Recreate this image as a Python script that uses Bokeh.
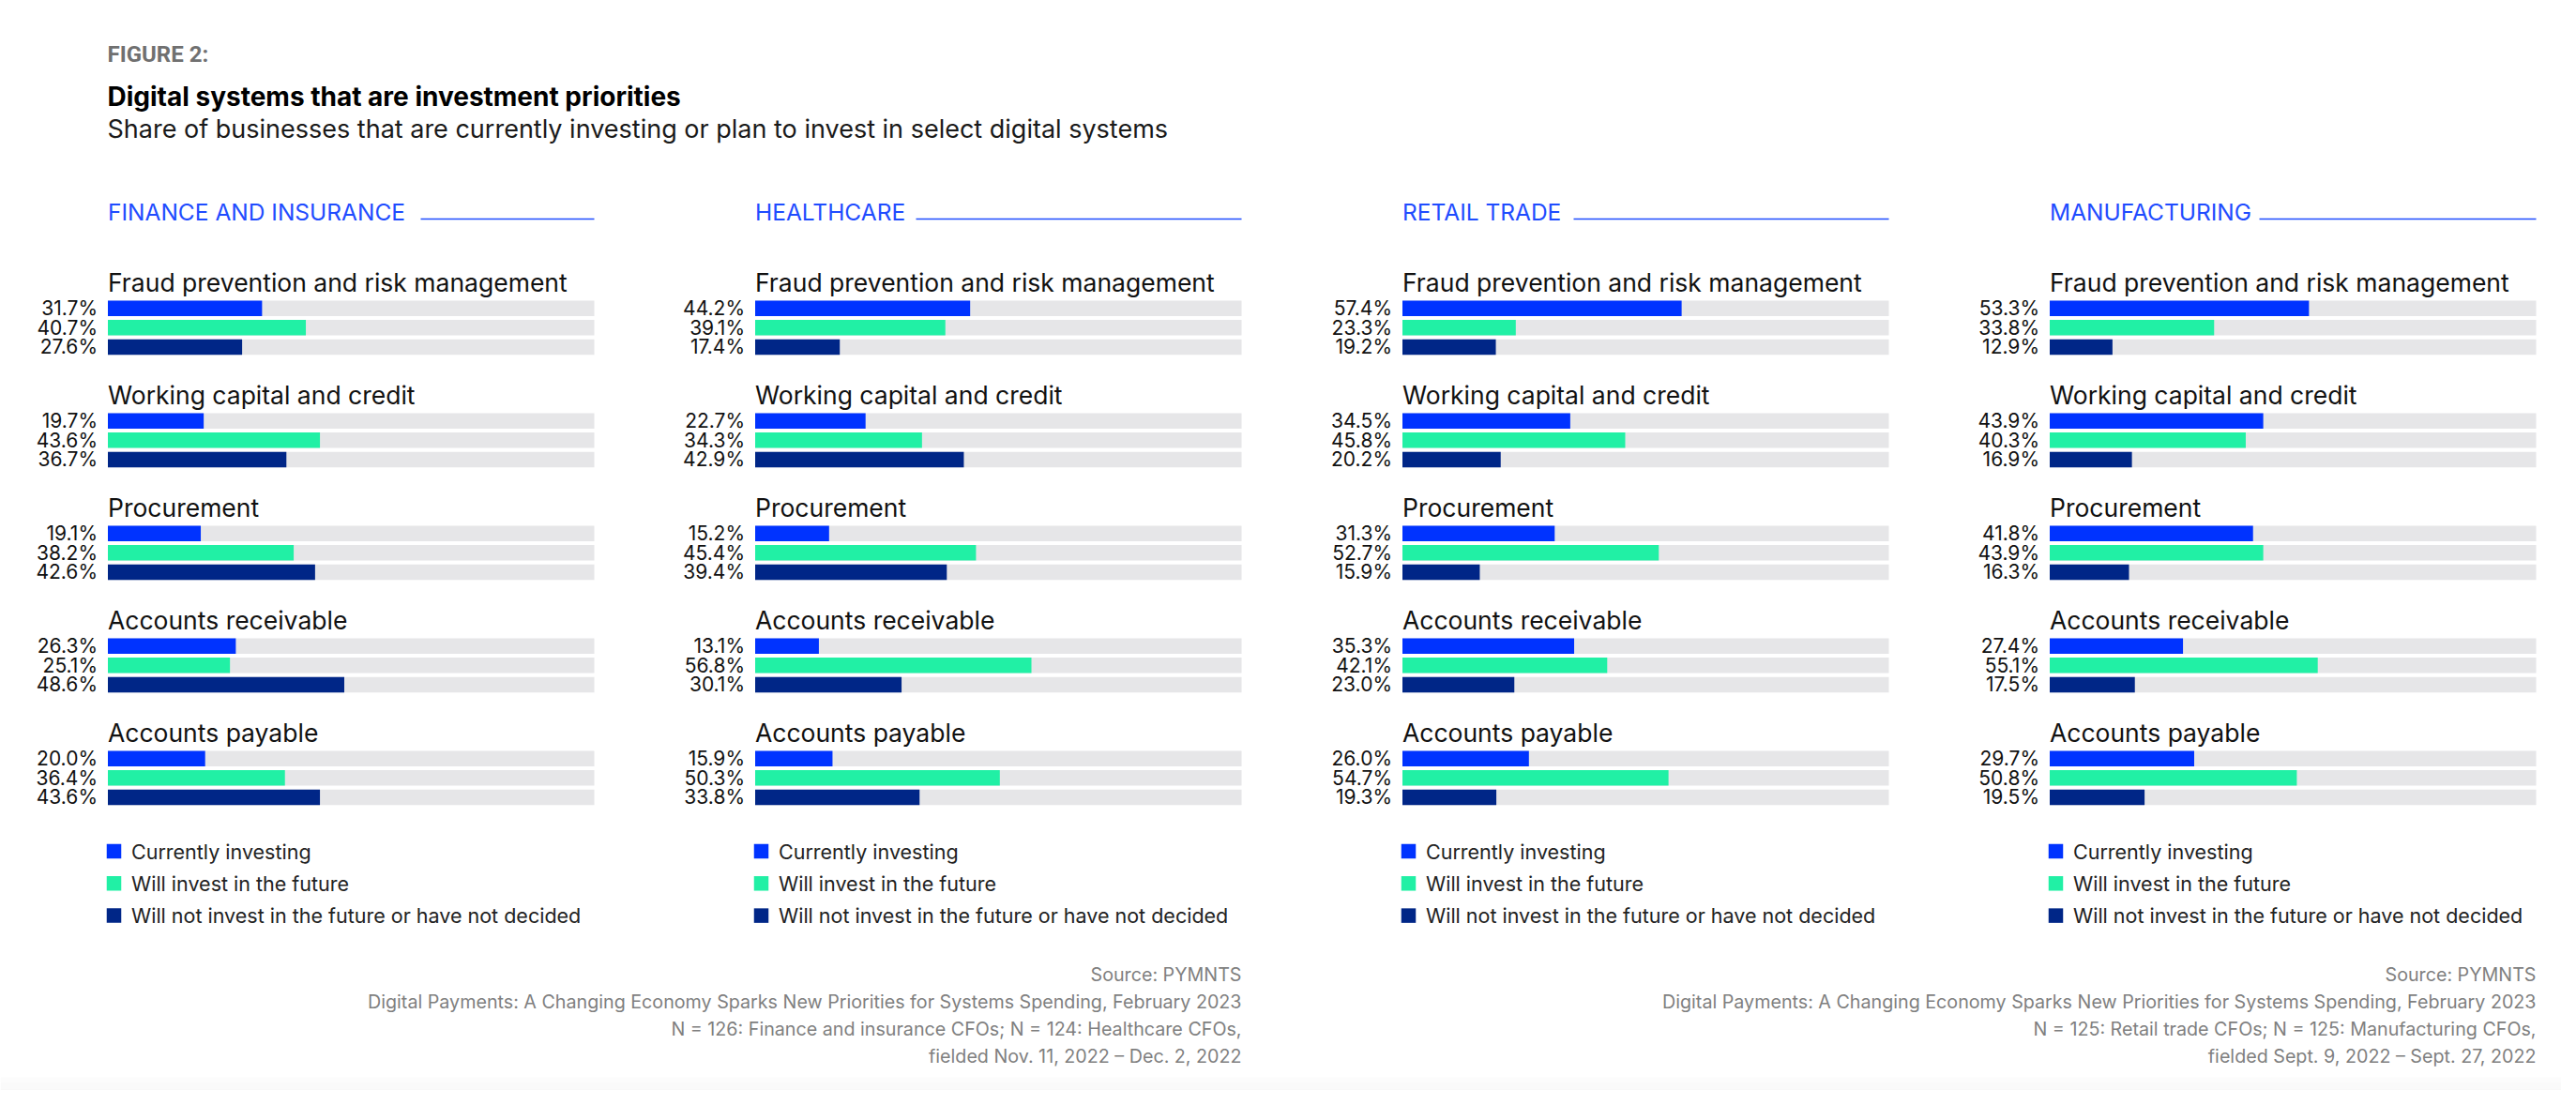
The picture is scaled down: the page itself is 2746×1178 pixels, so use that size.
from bokeh.plotting import figure
from bokeh.models import Range1d, ColumnDataSource
from bokeh.embed import file_html
from bokeh.resources import INLINE
from bokeh.core.properties import value

# ---------------- data ----------------
panels = ["FINANCE AND INSURANCE", "HEALTHCARE", "RETAIL TRADE", "MANUFACTURING"]
categories = ["Fraud prevention and risk management", "Working capital and credit",
              "Procurement", "Accounts receivable", "Accounts payable"]
series = ["Currently investing", "Will invest in the future",
          "Will not invest in the future or have not decided"]
colors = ["#0033ff", "#21f0a5", "#002687"]

finance_current = [31.7, 19.7, 19.1, 26.3, 20.0]
finance_future = [40.7, 43.6, 38.2, 25.1, 36.4]
finance_not = [27.6, 36.7, 42.6, 48.6, 43.6]

healthcare_current = [44.2, 22.7, 15.2, 13.1, 15.9]
healthcare_future = [39.1, 34.3, 45.4, 56.8, 50.3]
healthcare_not = [17.4, 42.9, 39.4, 30.1, 33.8]

retail_current = [57.4, 34.5, 31.3, 35.3, 26.0]
retail_future = [23.3, 45.8, 52.7, 42.1, 54.7]
retail_not = [19.2, 20.2, 15.9, 23.0, 19.3]

manufacturing_current = [53.3, 43.9, 41.8, 27.4, 29.7]
manufacturing_future = [33.8, 40.3, 43.9, 55.1, 50.8]
manufacturing_not = [12.9, 16.9, 16.3, 17.5, 19.5]

panel_data = [
    [finance_current, finance_future, finance_not],
    [healthcare_current, healthcare_future, healthcare_not],
    [retail_current, retail_future, retail_not],
    [manufacturing_current, manufacturing_future, manufacturing_not],
]

figure_label = "FIGURE 2:"
title = "Digital systems that are investment priorities"
subtitle = "Share of businesses that are currently investing or plan to invest in select digital systems"
footer_left = ["Source: PYMNTS",
               "Digital Payments: A Changing Economy Sparks New Priorities for Systems Spending, February 2023",
               "N = 126: Finance and insurance CFOs; N = 124: Healthcare CFOs,",
               "fielded Nov. 11, 2022 \u2013 Dec. 2, 2022"]
footer_right = ["Source: PYMNTS",
                "Digital Payments: A Changing Economy Sparks New Priorities for Systems Spending, February 2023",
                "N = 125: Retail trade CFOs; N = 125: Manufacturing CFOs,",
                "fielded Sept. 9, 2022 \u2013 Sept. 27, 2022"]

# ---------------- layout ----------------
W, H = 2730, 1162
TDY = -8  # baseline-anchored text correction
FONT = "Inter"

p = figure(width=W, height=H, x_range=Range1d(0, W), y_range=Range1d(H, 0),
           output_backend="svg", toolbar_location=None, min_border=0,
           x_axis_location=None, y_axis_location=None)
p.grid.visible = False
p.outline_line_color = None
p.background_fill_color = "white"
p.border_fill_color = "white"

# faint bottom shading
for k, c in enumerate(["#fcfcfc", "#fafafa", "#f8f8f8", "#f6f6f6"]):
    p.quad(left=0, right=W, top=1148 + k * 6,
           bottom=(1154 + k * 6) if k < 3 else H,
           fill_color=c, line_color=None)

# header texts
p.text(x=[114], y=[65 + TDY], text=[figure_label], text_font=value("Roboto"),
       text_font_style="bold", text_font_size="24px", text_color="#707070",
       text_baseline="alphabetic")
p.text(x=[114], y=[110 + TDY], text=[title], text_font=value(FONT),
       text_font_style="bold", text_font_size="28px", text_color="#000000",
       text_baseline="alphabetic")
p.text(x=[114], y=[145 + TDY], text=[subtitle], text_font=value(FONT),
       text_font_size="27px", text_color="#1a1a1a", text_baseline="alphabetic")

X0 = 114.5
L = 518.5
PANEL_PITCH = 690.0
GROUP_PITCH = 120.0
SUB_PITCH = 20.6
BAR_H = 16.5
TOP = 320.0
line_starts = [448, 976, 1677, 2408]

for i, pname in enumerate(panels):
    s = X0 + PANEL_PITCH * i
    rname = "p%d" % i
    p.extra_x_ranges[rname] = Range1d(-s * 100.0 / L, (W - s) * 100.0 / L)

    # panel header + rule
    p.text(x=[0], y=[233 + TDY], text=[pname], x_range_name=rname,
           text_font=value(FONT), text_font_size="24.5px", text_color="#1f4cff",
           text_baseline="alphabetic")
    p.segment(x0=[line_starts[i]], x1=[s + L], y0=[233], y1=[233],
              line_color="#1f4cff", line_width=1.3)

    ys, vals, cols, labels = [], [], [], []
    for g, cat in enumerate(categories):
        for k in range(3):
            ys.append(TOP + GROUP_PITCH * g + SUB_PITCH * k + BAR_H / 2)
            v = panel_data[i][k][g]
            vals.append(v)
            cols.append(colors[k])
            labels.append("%.1f%%" % v)
    src = ColumnDataSource(dict(y=ys, val=vals, color=cols, label=labels))

    p.hbar(y="y", left=0, right=100, height=BAR_H, source=src, x_range_name=rname,
           fill_color="#e6e6e8", line_color=None)
    p.hbar(y="y", left=0, right="val", height=BAR_H, source=src, x_range_name=rname,
           fill_color="color", line_color=None)
    p.text(x=0, y="y", text="label", source=src, x_range_name=rname, x_offset=-11,
           text_align="right", text_baseline="middle", text_font=value(FONT),
           text_font_size="21px", text_color="#111111")

    cat_y = [TOP - 12 + TDY + GROUP_PITCH * g for g in range(len(categories))]
    p.text(x=[0] * len(categories), y=cat_y, text=categories, x_range_name=rname,
           text_font=value(FONT), text_font_size="26.5px", text_color="#111111",
           text_baseline="alphabetic")

    # legend
    leg_y = [907 + 34.3 * k for k in range(3)]
    p.rect(x=[s + 6.5] * 3, y=leg_y, width=15.5, height=15.5, fill_color=colors,
           line_color=None)
    p.text(x=[s + 25] * 3, y=leg_y, text=series, text_font=value(FONT),
           text_font_size="21.5px", text_color="#222222", text_baseline="middle")

# footers
for j, lines in enumerate([footer_left, footer_right]):
    xr = X0 + PANEL_PITCH * (2 * j + 1) + L
    fy = [1046 + TDY + 29 * k for k in range(len(lines))]
    p.text(x=[xr] * len(lines), y=fy, text=lines, text_align="right",
           text_font=value(FONT), text_font_size="19.7px", text_color="#7f7f7f",
           text_baseline="alphabetic")

open("out.html", "w").write(file_html(p, INLINE))
